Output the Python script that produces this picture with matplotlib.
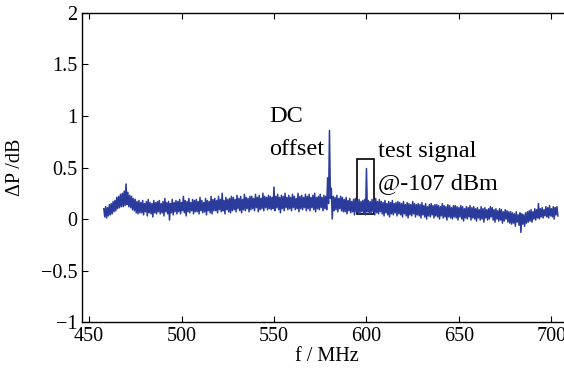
import numpy as np
import matplotlib
matplotlib.use("Agg")
import matplotlib.pyplot as plt
from matplotlib.patches import Rectangle

plt.rcParams['font.family'] = ['Liberation Serif', 'DejaVu Serif']

# spectrum trace, one upper and one lower reading per MHz, 458 .. 703 MHz
f_start = 458
dP_upper = [
    0.10, 0.12, 0.11, 0.14, 0.15, 0.17, 0.18, 0.21, 0.22, 0.24,
    0.25, 0.27, 0.34, 0.26, 0.23, 0.22, 0.20, 0.19, 0.17, 0.18,
    0.16, 0.18, 0.15, 0.17, 0.19, 0.16, 0.15, 0.18, 0.16, 0.17,
    0.18, 0.15, 0.17, 0.20, 0.16, 0.17, 0.15, 0.19, 0.16, 0.18,
    0.17, 0.19, 0.16, 0.22, 0.18, 0.17, 0.20, 0.16, 0.19, 0.18,
    0.19, 0.17, 0.21, 0.18, 0.16, 0.20, 0.18, 0.17, 0.22, 0.19,
    0.20, 0.18, 0.22, 0.19, 0.25, 0.18, 0.21, 0.19, 0.20, 0.22,
    0.21, 0.19, 0.23, 0.20, 0.22, 0.19, 0.24, 0.21, 0.20, 0.22,
    0.22, 0.20, 0.24, 0.21, 0.23, 0.20, 0.25, 0.22, 0.21, 0.23,
    0.22, 0.21, 0.31, 0.22, 0.24, 0.21, 0.23, 0.22, 0.25, 0.21,
    0.23, 0.21, 0.24, 0.22, 0.20, 0.25, 0.22, 0.23, 0.21, 0.24,
    0.22, 0.24, 0.21, 0.23, 0.25, 0.21, 0.22, 0.24, 0.21, 0.23,
    0.22, 0.40, 0.86, 0.30, 0.22, 0.21, 0.23, 0.20, 0.22, 0.21,
    0.19, 0.21, 0.18, 0.20, 0.17, 0.19, 0.20, 0.18, 0.19, 0.17,
    0.18, 0.19, 0.49, 0.18, 0.17, 0.19, 0.18, 0.20, 0.17, 0.19,
    0.17, 0.16, 0.18, 0.15, 0.17, 0.16, 0.18, 0.15, 0.16, 0.17,
    0.16, 0.15, 0.17, 0.14, 0.16, 0.15, 0.14, 0.17, 0.15, 0.14,
    0.15, 0.14, 0.16, 0.13, 0.15, 0.12, 0.14, 0.15, 0.13, 0.14,
    0.14, 0.13, 0.12, 0.15, 0.13, 0.12, 0.14, 0.13, 0.11, 0.13,
    0.13, 0.12, 0.11, 0.13, 0.12, 0.10, 0.12, 0.11, 0.13, 0.11,
    0.12, 0.10, 0.11, 0.09, 0.12, 0.10, 0.11, 0.09, 0.10, 0.12,
    0.11, 0.09, 0.10, 0.08, 0.10, 0.09, 0.07, 0.09, 0.08, 0.07,
    0.07, 0.06, 0.05, 0.07, 0.04, 0.06, 0.05, 0.04, 0.06, 0.07,
    0.08, 0.09, 0.07, 0.10, 0.09, 0.15, 0.10, 0.11, 0.09, 0.12,
    0.11, 0.13, 0.10, 0.12, 0.11, 0.12,
]
dP_lower = [
    0.02, 0.01, 0.03, 0.04, 0.05, 0.07, 0.08, 0.10, 0.11, 0.12,
    0.12, 0.13, 0.14, 0.12, 0.11, 0.09, 0.08, 0.06, 0.05, 0.06,
    0.06, 0.04, 0.07, 0.03, 0.06, 0.05, 0.02, 0.06, 0.05, 0.07,
    0.05, 0.06, 0.03, 0.07, 0.05, -0.01, 0.06, 0.04, 0.07, 0.05,
    0.07, 0.05, 0.08, 0.06, 0.03, 0.07, 0.06, 0.08, 0.05, 0.07,
    0.07, 0.05, 0.08, 0.06, 0.07, 0.04, 0.08, 0.06, 0.05, 0.08,
    0.08, 0.06, 0.09, 0.07, 0.08, 0.05, 0.09, 0.07, 0.06, 0.08,
    0.09, 0.07, 0.10, 0.08, 0.06, 0.09, 0.08, 0.10, 0.07, 0.09,
    0.10, 0.08, 0.11, 0.07, 0.09, 0.10, 0.08, 0.11, 0.09, 0.10,
    0.09, 0.10, 0.08, 0.11, 0.09, 0.06, 0.10, 0.08, 0.11, 0.09,
    0.10, 0.08, 0.11, 0.09, 0.10, 0.07, 0.10, 0.09, 0.11, 0.08,
    0.10, 0.08, 0.11, 0.09, 0.07, 0.10, 0.09, 0.11, 0.08, 0.10,
    0.09, 0.15, 0.20, 0.00, 0.08, 0.09, 0.07, 0.10, 0.08, 0.07,
    0.07, 0.05, 0.08, 0.06, 0.07, 0.04, 0.07, 0.06, 0.05, 0.07,
    0.06, 0.04, 0.07, 0.05, 0.06, 0.07, 0.04, 0.06, 0.05, 0.07,
    0.05, 0.03, 0.06, 0.04, 0.02, 0.05, 0.04, 0.06, 0.03, 0.05,
    0.04, 0.02, 0.05, 0.03, 0.01, 0.04, 0.03, 0.05, 0.02, 0.04,
    0.03, 0.01, 0.04, 0.02, 0.00, 0.03, 0.02, 0.04, 0.01, 0.03,
    0.02, 0.00, 0.03, 0.01, 0.02, -0.01, 0.02, 0.01, 0.00, 0.02,
    0.01, -0.01, 0.02, 0.00, -0.02, 0.01, 0.00, 0.02, -0.01, 0.01,
    0.00, -0.02, 0.01, -0.01, 0.00, -0.03, 0.01, -0.01, 0.00, 0.02,
    -0.01, -0.03, 0.00, -0.02, -0.01, -0.04, -0.02, 0.00, -0.03, -0.04,
    -0.05, -0.04, -0.07, -0.03, -0.06, -0.13, -0.05, -0.07, -0.04, -0.03,
    -0.02, -0.03, 0.00, -0.01, 0.01, 0.00, 0.02, 0.01, 0.03, 0.02,
    0.01, 0.03, 0.02, 0.00, 0.04, 0.03,
]

freq = np.arange(f_start, f_start + len(dP_upper))
# the trace runs up and down between the two readings of each MHz
x_trace = np.column_stack([freq, freq + 0.5]).ravel()
y_trace = np.column_stack([dP_upper, dP_lower]).ravel()

xticks = [450, 500, 550, 600, 650, 700]
yticks = [-1, -0.5, 0, 0.5, 1, 1.5, 2]
yticklabels = ['\u22121', '\u22120.5', '0', '0.5', '1', '1.5', '2']

fig = plt.figure(figsize=(5.64, 3.8), dpi=100)
ax = fig.add_axes([0.1454, 0.1526, 0.87, 0.8132])

ax.plot(x_trace, y_trace, color='#2b3b9c', lw=1.1)

# box round the test signal
ax.add_patch(Rectangle((595.1, 0.05), 9.2, 0.53, fill=False,
                       edgecolor='black', lw=1.2))

ax.text(547.5, 0.945, 'DC', fontsize=17.5, va='baseline', ha='left')
ax.text(547.5, 0.62, 'offset', fontsize=17.5, va='baseline', ha='left')
ax.text(606.3, 0.60, 'test signal', fontsize=17.5, va='baseline', ha='left')
ax.text(606.3, 0.29, '@-107 dBm', fontsize=17.5, va='baseline', ha='left')

ax.set_xlim(446.2, 711.5)
ax.set_ylim(-1, 2)
ax.set_xticks(xticks)
ax.set_yticks(yticks)
ax.set_yticklabels(yticklabels)
ax.tick_params(direction='in', top=True, right=False, labelsize=14.5,
               length=4, width=0.8)
ax.spines['right'].set_visible(False)
for s in ['left', 'bottom', 'top']:
    ax.spines[s].set_linewidth(1.0)

ax.set_xlabel('f / MHz', fontsize=14.5, labelpad=1)
ax.set_ylabel('\u0394P /dB', fontsize=14.5, labelpad=11)

fig.savefig('out.png', dpi=100)
